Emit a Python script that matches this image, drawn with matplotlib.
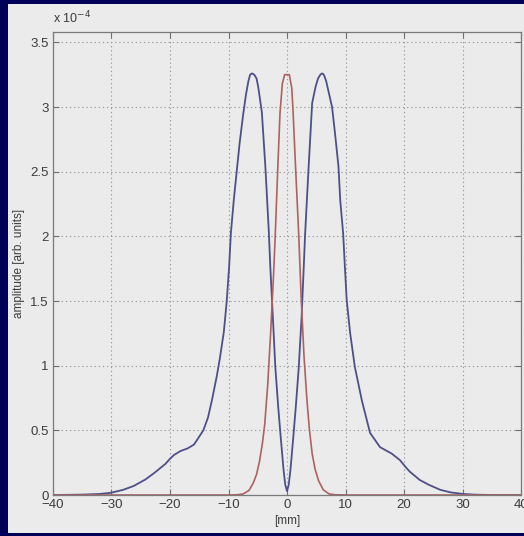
import numpy as np
import matplotlib
matplotlib.use("Agg")
import matplotlib.pyplot as plt
from matplotlib.patches import Rectangle

# ---------------------------------------------------------------
# values, amplitude in units of 1e-4
# ---------------------------------------------------------------
blue_x = [-40, -35, -32, -30, -28, -26.2, -24.2, -22.7, -20.8, -20.0, -19.3,
          -18.2, -17.0, -15.9, -14.3, -13.5, -12.8, -12.0, -11.5, -10.8, -10.3,
          -9.9, -9.6, -9.1, -8.6, -8.1, -7.5, -7.0, -6.6, -6.3, -6.0, -5.6,
          -5.2, -4.9, -4.3, -3.7, -3.1, -2.85, -2.4, -2.0, -1.5, -1.1, -0.6,
          -0.3, 0.0, 0.3, 0.6, 1.1, 1.5, 2.0, 2.5, 2.85, 3.1, 3.7, 4.3, 4.9,
          5.3, 5.7, 6.0, 6.3, 6.7, 7.1, 7.7, 8.2, 8.8, 9.1, 9.6, 9.9, 10.2,
          10.8, 11.6, 12.8, 14.2, 15.9, 17.9, 19.3, 20.2, 21.0, 22.7, 24.2,
          26.2, 28.0, 30.1, 32, 35, 40]
blue_y = [0.0, 0.003, 0.008, 0.018, 0.04, 0.07, 0.12, 0.17, 0.24, 0.28, 0.31,
          0.34, 0.36, 0.39, 0.5, 0.6, 0.74, 0.92, 1.05, 1.26, 1.5,
          1.76, 2.02, 2.28, 2.5, 2.72, 2.94, 3.1, 3.2, 3.25, 3.26, 3.25,
          3.22, 3.15, 2.96, 2.54, 2.03, 1.76, 1.36, 0.99, 0.68, 0.46, 0.2,
          0.08, 0.03, 0.08, 0.2, 0.46, 0.68, 0.98, 1.38, 1.75, 2.02, 2.54,
          3.03, 3.16, 3.22, 3.25, 3.26, 3.25, 3.2, 3.12, 3.0, 2.8, 2.54, 2.28,
          2.02, 1.76, 1.51, 1.25, 0.99, 0.73, 0.48, 0.37, 0.32, 0.27, 0.22,
          0.18, 0.116, 0.08, 0.04, 0.02, 0.008, 0.003, 0.0, 0.0]

red_x = [-40, -10, -8.5, -7.5, -6.5, -5.8, -5.2, -4.7, -4.2, -3.8, -3.3,
         -2.8, -2.3, -2.0, -1.6, -1.2, -0.8, -0.4, 0.0, 0.4, 0.8, 1.0, 1.5,
         2.0, 2.4, 2.9, 3.4, 3.8, 4.3, 4.8, 5.4, 6.2, 7.2, 8.2, 10, 40]
red_y = [0.0, 0.0, 0.002, 0.008, 0.035, 0.09, 0.16, 0.26, 0.4, 0.55, 0.85,
         1.25, 1.7, 2.02, 2.5, 2.95, 3.18, 3.25, 3.25, 3.25, 3.15, 3.0, 2.5,
         2.02, 1.55, 1.08, 0.74, 0.52, 0.32, 0.2, 0.11, 0.04, 0.008, 0.002,
         0.0, 0.0]

x_ticks = [-40, -30, -20, -10, 0, 10, 20, 30, 40]
y_ticks = [0, 0.5, 1, 1.5, 2, 2.5, 3, 3.5]
y_tick_labels = ["0", "0.5", "1", "1.5", "2", "2.5", "3", "3.5"]

navy = "#000058"
panel = "#ebebeb"
text_col = "#3c3c3c"

plt.rcParams["font.family"] = ["Liberation Sans", "DejaVu Sans"]

fig = plt.figure(figsize=(5.24, 5.36), dpi=100)
fig.patch.set_facecolor(navy)
W, H = 524, 536
# light grey slide panel, kept behind the axes
fig.patches.append(Rectangle((8 / W, 1 - 533 / H), 516 / W, 529 / H,
                             transform=fig.transFigure, facecolor=panel,
                             edgecolor="none", zorder=-5))

ax = fig.add_axes([53 / W, 1 - 495 / H, 468 / W, 463 / H])
ax.set_facecolor(panel)

ax.plot(blue_x, blue_y, color="#4f4f88", lw=1.3)
ax.plot(red_x, red_y, color="#ad6262", lw=1.2)

ax.set_xlim(-40, 40)
ax.set_ylim(0, 3.58)
ax.set_xticks(x_ticks)
ax.set_yticks(y_ticks)
ax.set_yticklabels(y_tick_labels)
ax.xaxis.set_major_formatter(plt.FuncFormatter(lambda v, p: f"{v:g}".replace("-", "\u2212")))

ax.grid(True, linestyle=(0, (1.2, 2.5)), color="#9a9a9a", lw=0.8)
ax.tick_params(direction="in", top=True, right=True, length=4,
               labelsize=9.5, colors="#707070", labelcolor=text_col, pad=3)
for sp in ax.spines.values():
    sp.set_color("#7a7a7a")
    sp.set_linewidth(0.9)

ax.set_xlabel("[mm]", fontsize=8.5, color=text_col, labelpad=3)
ax.set_ylabel("amplitude [arb. units]", fontsize=8.5, color=text_col, labelpad=4)
ax.text(0.0, 1.012, r"x 10$^{-4}$", transform=ax.transAxes, fontsize=9,
        color=text_col, ha="left", va="bottom")

fig.savefig("out.png", dpi=100, facecolor=navy)
